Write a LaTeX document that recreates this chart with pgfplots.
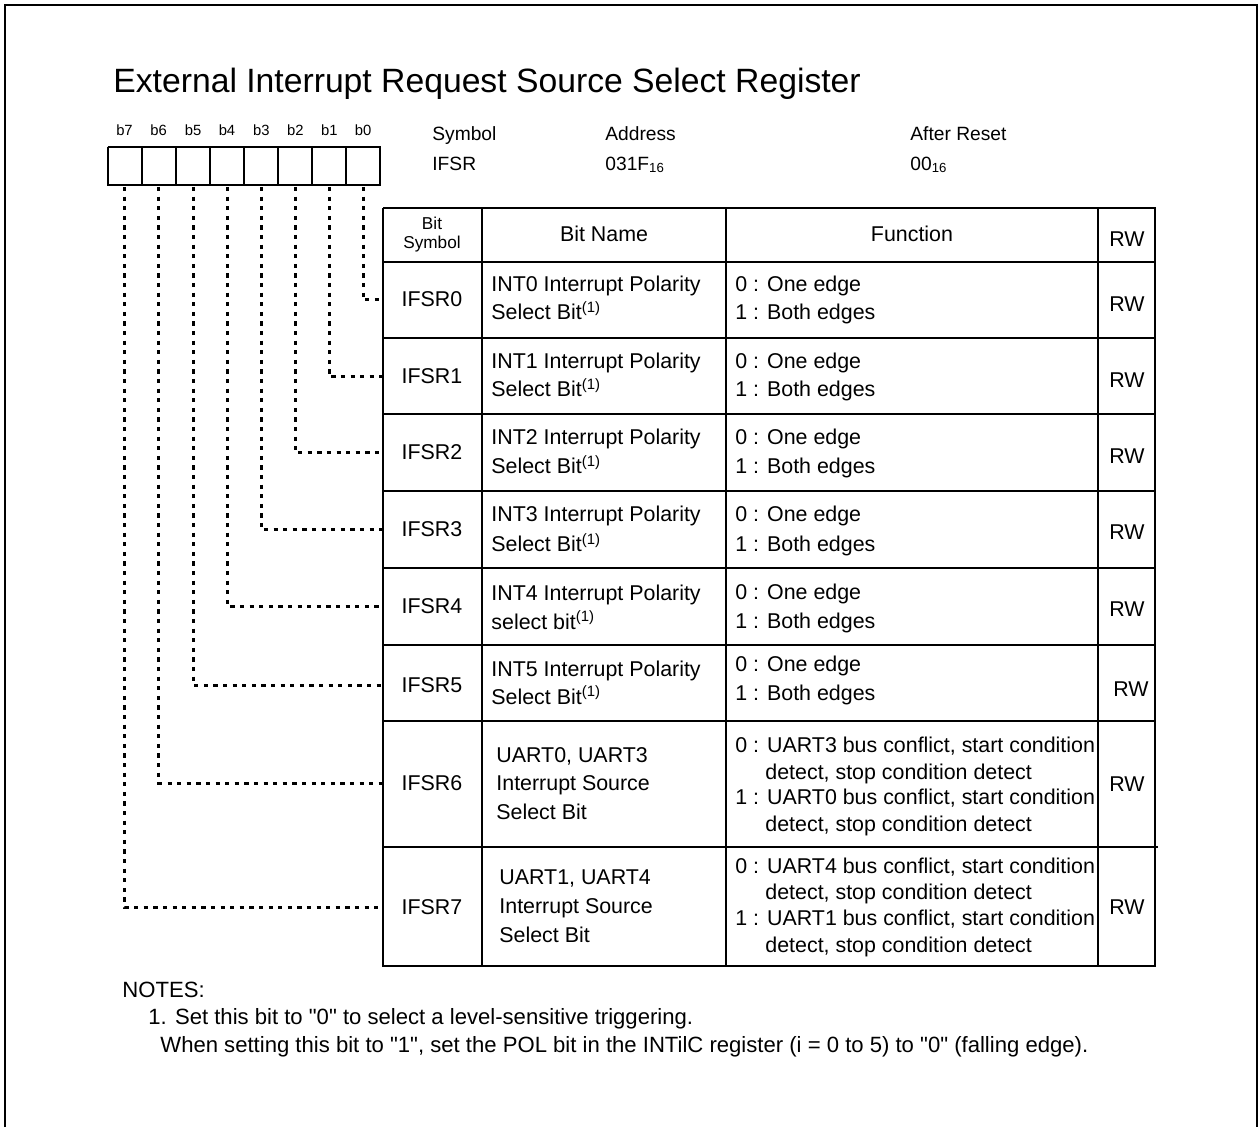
\documentclass[border=0pt]{standalone}
\usepackage{pgfplots}
\pgfplotsset{compat=1.18}
\usepackage{fontspec}
\setmainfont{Liberation Sans}[Ligatures=TeXOff]
\newcommand\bodyf{\fontsize{10.7pt}{12pt}\selectfont}
\newcommand\sub[1]{\raisebox{-1pt}{\fontsize{6.6pt}{7pt}\selectfont #1}}
\newcommand\fn{\textsuperscript{(1)}}
\newcommand\tw[3]{\node[anchor=base west,inner sep=0pt] at (axis cs:#1,#2) {\bodyf #3};}
\newcommand\tc[3]{\node[anchor=base,inner sep=0pt] at (axis cs:#1,#2) {\bodyf #3};}
\newcommand\tn[3]{\node[anchor=base west,inner sep=0pt] at (axis cs:#1,#2) {\fontsize{11.05pt}{12pt}\selectfont #3};}
\begin{document}
\begin{tikzpicture}
\begin{axis}[scale only axis, width=629.5pt, height=563.5pt,
  xmin=0, xmax=1259, ymin=0, ymax=1127, y dir=reverse,
  hide axis, clip=false]
\path (axis cs:0,0) rectangle (axis cs:1259,1127);
% page frame
\addplot[black, line width=1.1pt] coordinates {(5,1127) (5,5) (1257,5) (1257,1127)};
% title
\node[anchor=base west,inner sep=0pt] at (axis cs:113,93) {\fontsize{16.85pt}{20pt}\selectfont External Interrupt Request Source Select Register};
% bit labels
\foreach \x/\l in {124.5/b7,158.7/b6,193/b5,227/b4,261.3/b3,295.3/b2,329.3/b1,363/b0}{
  \edef\tmp{\noexpand\node[anchor=base,inner sep=0pt] at (axis cs:\x,136) {\noexpand\fontsize{7.4pt}{8pt}\noexpand\selectfont \l};}\tmp
}
% bit box
\addplot[black, line width=1pt] coordinates {(107.5,147) (380,147) (380,185) (107.5,185) (107.5,147)};
\addplot[black, line width=1pt] coordinates {(141.7,147) (141.7,185)};
\addplot[black, line width=1pt] coordinates {(175.7,147) (175.7,185)};
\addplot[black, line width=1pt] coordinates {(210,147) (210,185)};
\addplot[black, line width=1pt] coordinates {(244.3,147) (244.3,185)};
\addplot[black, line width=1pt] coordinates {(278.3,147) (278.3,185)};
\addplot[black, line width=1pt] coordinates {(312.3,147) (312.3,185)};
\addplot[black, line width=1pt] coordinates {(346.3,147) (346.3,185)};
% header info
\node[anchor=base west,inner sep=0pt] at (axis cs:432,141) {\fontsize{9.6pt}{11pt}\selectfont Symbol};
\node[anchor=base west,inner sep=0pt] at (axis cs:432,171) {\fontsize{9.6pt}{11pt}\selectfont IFSR};
\node[anchor=base west,inner sep=0pt] at (axis cs:605,141) {\fontsize{9.6pt}{11pt}\selectfont Address};
\node[anchor=base west,inner sep=0pt] at (axis cs:605,171) {\fontsize{9.6pt}{11pt}\selectfont 031F\sub{16}};
\node[anchor=base west,inner sep=0pt] at (axis cs:910,141) {\fontsize{9.6pt}{11pt}\selectfont After Reset};
\node[anchor=base west,inner sep=0pt] at (axis cs:910,171) {\fontsize{9.6pt}{11pt}\selectfont 00\sub{16}};
% dotted leaders
\pgfplotsset{leader/.style={black, line width=1.5pt, dash pattern=on 2.1pt off 2.7pt}}
\addplot[leader] coordinates {(363,187) (363,300) (383,300)};
\addplot[leader] coordinates {(329.3,187) (329.3,377) (383,377)};
\addplot[leader] coordinates {(295.3,187) (295.3,453) (383,453)};
\addplot[leader] coordinates {(261.3,187) (261.3,530) (383,530)};
\addplot[leader] coordinates {(227,187) (227,606) (383,606)};
\addplot[leader] coordinates {(193,187) (193,685) (383,685)};
\addplot[leader] coordinates {(158.7,187) (158.7,783) (383,783)};
\addplot[leader] coordinates {(124.5,187) (124.5,907) (383,907)};
% table grid
\pgfplotsset{tgrid/.style={black, line width=0.75pt}}
\addplot[tgrid] coordinates {(383,262) (1155,262)};
\addplot[tgrid] coordinates {(383,338) (1155,338)};
\addplot[tgrid] coordinates {(383,414) (1155,414)};
\addplot[tgrid] coordinates {(383,491) (1155,491)};
\addplot[tgrid] coordinates {(383,568) (1155,568)};
\addplot[tgrid] coordinates {(383,645) (1155,645)};
\addplot[tgrid] coordinates {(383,721) (1155,721)};
\addplot[tgrid] coordinates {(383,847) (1158,847)};
\addplot[tgrid] coordinates {(482,208) (482,966)};
\addplot[tgrid] coordinates {(726,208) (726,966)};
\addplot[tgrid] coordinates {(1098,208) (1098,966)};
\addplot[black, line width=0.95pt] coordinates {(383,208) (1155,208) (1155,966) (383,966) (383,208)};
% table header
\node[anchor=base,inner sep=0pt] at (axis cs:432,230) {\fontsize{8.6pt}{9pt}\selectfont Bit};
\node[anchor=base,inner sep=0pt] at (axis cs:432,249) {\fontsize{8.6pt}{9pt}\selectfont Symbol};
\tc{604}{242}{Bit Name}
\tc{912}{242}{Function}
\tc{1127}{247}{RW}
% row 0
\tc{432}{307}{IFSR0}
\tw{491}{292}{INT0 Interrupt Polarity}
\tw{491}{320}{Select Bit\fn}
\tw{735}{292}{0 : One edge}
\tw{735}{320}{1 : Both edges}
\tc{1127}{312}{RW}
% row 1
\tc{432}{384}{IFSR1}
\tw{491}{369}{INT1 Interrupt Polarity}
\tw{491}{397}{Select Bit\fn}
\tw{735}{369}{0 : One edge}
\tw{735}{397}{1 : Both edges}
\tc{1127}{388}{RW}
% row 2
\tc{432}{460}{IFSR2}
\tw{491}{445}{INT2 Interrupt Polarity}
\tw{491}{474}{Select Bit\fn}
\tw{735}{445}{0 : One edge}
\tw{735}{474}{1 : Both edges}
\tc{1127}{464}{RW}
% row 3
\tc{432}{537}{IFSR3}
\tw{491}{522}{INT3 Interrupt Polarity}
\tw{491}{552}{Select Bit\fn}
\tw{735}{522}{0 : One edge}
\tw{735}{552}{1 : Both edges}
\tc{1127}{540}{RW}
% row 4
\tc{432}{613}{IFSR4}
\tw{491}{601}{INT4 Interrupt Polarity}
\tw{491}{629}{select bit\fn}
\tw{735}{600}{0 : One edge}
\tw{735}{628}{1 : Both edges}
\tc{1127}{617}{RW}
% row 5
\tc{432}{692}{IFSR5}
\tw{491}{676}{INT5 Interrupt Polarity}
\tw{491}{704}{Select Bit\fn}
\tw{735}{671}{0 : One edge}
\tw{735}{700}{1 : Both edges}
\tc{1131}{696}{RW}
% row 6
\tc{432}{790}{IFSR6}
\tw{496}{762}{UART0, UART3}
\tw{496}{790}{Interrupt Source}
\tw{496}{819}{Select Bit}
\tw{735}{752}{0 : UART3 bus conflict, start condition}
\tw{765}{779}{detect, stop condition detect}
\tw{735}{804}{1 : UART0 bus conflict, start condition}
\tw{765}{831}{detect, stop condition detect}
\tc{1127}{791}{RW}
% row 7
\tc{432}{914}{IFSR7}
\tw{499}{884}{UART1, UART4}
\tw{499}{913}{Interrupt Source}
\tw{499}{942}{Select Bit}
\tw{735}{873}{0 : UART4 bus conflict, start condition}
\tw{765}{899}{detect, stop condition detect}
\tw{735}{925}{1 : UART1 bus conflict, start condition}
\tw{765}{952}{detect, stop condition detect}
\tc{1127}{914}{RW}
% notes
\tn{122}{997}{NOTES:}
\tn{148}{1024}{1. Set this bit to "0" to select a level-sensitive triggering.}
\tn{160}{1052}{When setting this bit to "1", set the POL bit in the INTilC register (i = 0 to 5) to "0" (falling edge).}
\end{axis}
\end{tikzpicture}
\end{document}
